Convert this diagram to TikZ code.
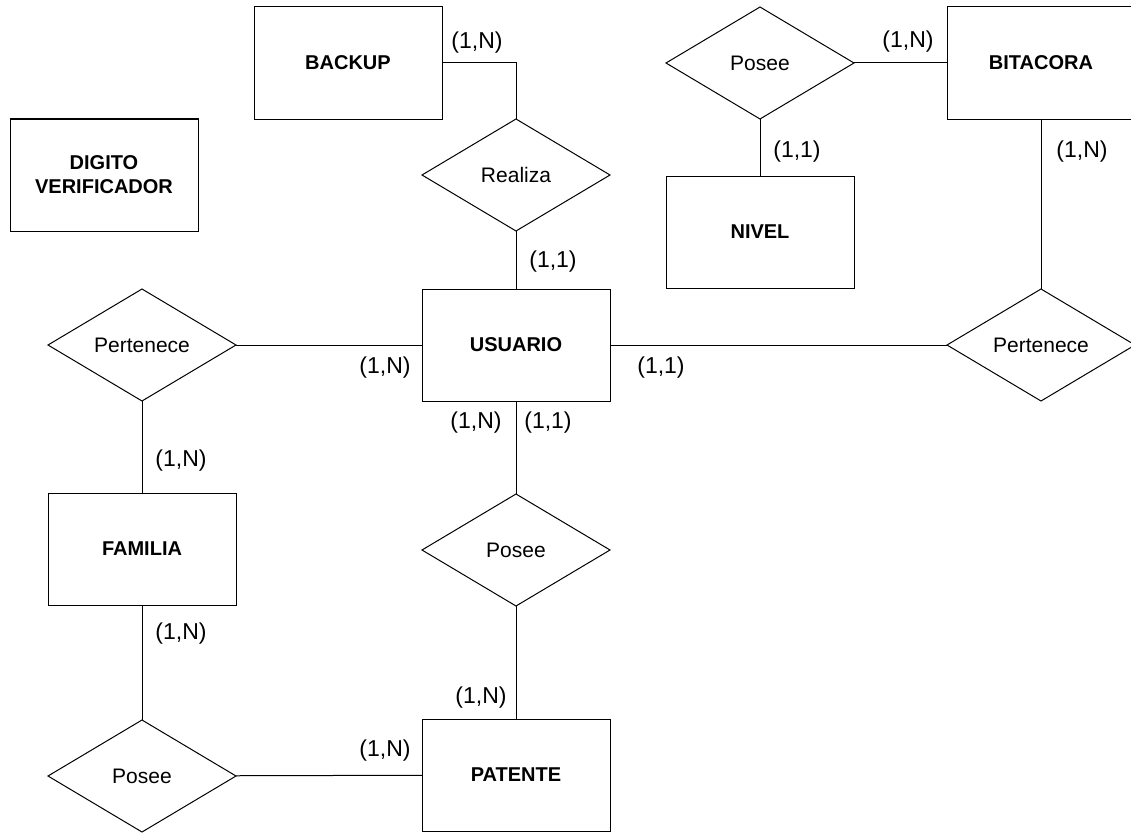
\documentclass[tikz,border=0pt]{standalone}
\usepackage{fontspec}
\setmainfont{Liberation Sans}
\usepackage{tikz}
\usetikzlibrary{shapes.geometric}

\begin{document}
\begin{tikzpicture}[
    x=1pt, y=-1pt,
    line width=1pt,
    every node/.style={font=\fontsize{21}{24}\selectfont},
    entity/.style={draw, rectangle, minimum width=188pt, minimum height=112pt,
        inner sep=0pt, outer sep=0pt, align=center,
        font=\fontsize{20}{24}\selectfont\bfseries},
    relation/.style={draw, diamond, minimum width=188pt, minimum height=112pt,
        inner sep=0pt, outer sep=0pt},
    card/.style={inner sep=0pt, font=\fontsize{23}{24}\selectfont},
]
\useasboundingbox (0,0) rectangle (1131,832);

% Entities
\node[entity] (backup)   at (348,63)  {BACKUP};
\node[entity] (digito)   at (104,175) {DIGITO\\VERIFICADOR};
\node[entity] (bitacora) at (1041,63) {BITACORA};
\node[entity] (nivel)    at (760,232) {NIVEL};
\node[entity] (usuario)  at (516,345) {USUARIO};
\node[entity] (familia)  at (142,549) {FAMILIA};
\node[entity] (patente)  at (516,775) {PATENTE};

% Relations
\node[relation] (realiza)   at (516,175) {Realiza};
\node[relation] (poseeBit)  at (760,63)  {Posee};
\node[relation] (pertBit)   at (1041,345) {Pertenece};
\node[relation] (pertFam)   at (142,345) {Pertenece};
\node[relation] (poseePat)  at (516,550) {Posee};
\node[relation] (poseeFam)  at (142,776) {Posee};

% Connectors
\draw (backup.east) -| (realiza.north);
\draw (realiza) -- (usuario);
\draw (poseeBit) -- (bitacora);
\draw (poseeBit) -- (nivel);
\draw (bitacora) -- (pertBit);
\draw (usuario) -- (pertBit);
\draw (pertFam) -- (usuario);
\draw (pertFam) -- (familia);
\draw (usuario) -- (poseePat);
\draw (poseePat) -- (patente);
\draw (familia) -- (poseeFam);
\draw (poseeFam) -- (patente);

% Cardinalities
\node[card] (cBackup)   at (477,43)  {(1,N)};
\node[card] (cRealiza)  at (553,262) {(1,1)};
\node[card] (cBitPos)   at (908,42)  {(1,N)};
\node[card] (cNivel)    at (797,152) {(1,1)};
\node[card] (cBitPert)  at (1082,152) {(1,N)};
\node[card] (cUsrPert)  at (661,368) {(1,1)};
\node[card] (cUsrFam)   at (385,368) {(1,N)};
\node[card] (cUsrPosN)  at (476,423) {(1,N)};
\node[card] (cUsrPos1)  at (548,423) {(1,1)};
\node[card] (cFamPert)  at (181,461) {(1,N)};
\node[card] (cFamPos)   at (181,634) {(1,N)};
\node[card] (cPatPos)   at (481,698) {(1,N)};
\node[card] (cPatFam)   at (385,751) {(1,N)};
\end{tikzpicture}
\end{document}
